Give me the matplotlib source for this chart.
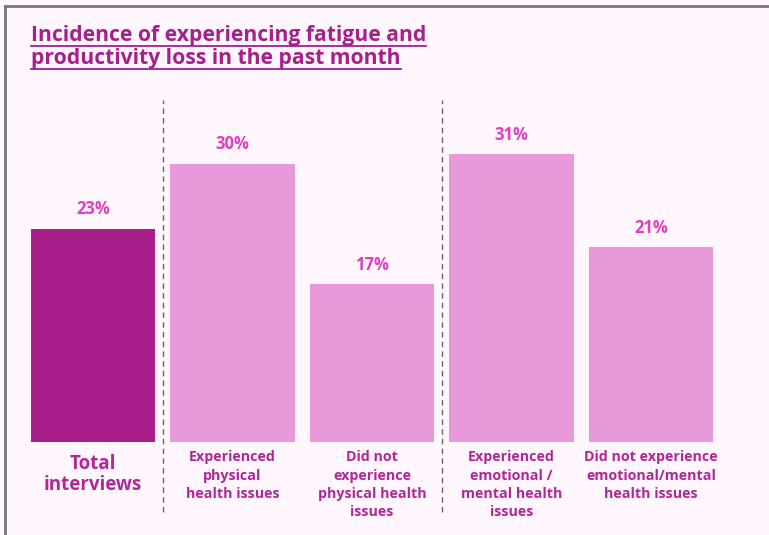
import matplotlib.pyplot as plt
from matplotlib.lines import Line2D

# 資料
categories = [
    "Total\ninterviews",
    "Experienced\nphysical\nhealth issues",
    "Did not\nexperience\nphysical health\nissues",
    "Experienced\nemotional /\nmental health\nissues",
    "Did not experience\nemotional/mental\nhealth issues",
]
values = [23, 30, 17, 31, 21]
value_labels = ["23%", "30%", "17%", "31%", "21%"]

BG = "#FFF7FD"
DARK = "#A81E8A"
LIGHT = "#E899D9"
LABEL_PINK = "#E040C0"
CAT_COLOR = "#B0279A"
TITLE_COLOR = "#A4208C"
FONT = ["Open Sans", "DejaVu Sans"]

W, H = 769, 535
fig = plt.figure(figsize=(W / 100, H / 100), dpi=100, facecolor=BG)

# 軸位置 (像素換算)
px_per_unit = 9.28
base_y = H - 442
top_y = H - 100
ax = fig.add_axes([23.25 / W, base_y / H, 697.5 / W, (top_y - base_y) / H])
ax.set_facecolor(BG)
ymax = (top_y - base_y) / px_per_unit
ax.set_xlim(-0.5, 4.5)
ax.set_ylim(0, ymax)
ax.axis("off")

colors = [DARK] + [LIGHT] * 4
x = range(len(values))
ax.bar(x, values, width=0.89, color=colors)

for xi, v, lab in zip(x, values, value_labels):
    ax.text(xi, v + 1.1, lab, ha="center", va="bottom", color=LABEL_PINK,
            fontsize=12, fontweight="bold", family=FONT)

# 類別標籤
for xi, cat in enumerate(categories):
    if xi == 0:
        ax.text(xi, -1.3, cat, ha="center", va="top", color=CAT_COLOR,
                fontsize=13.5, fontweight="bold", family=FONT, linespacing=1.05)
    else:
        ax.text(xi, -0.9, cat, ha="center", va="top", color=CAT_COLOR,
                fontsize=10.3, fontweight="bold", family=FONT, linespacing=1.38)

# 分隔虛線
y_low = -(512 - 442) / px_per_unit
for xd in [0.5, 2.5]:
    ax.plot([xd, xd], [y_low, ymax], ls=(0, (4, 3)), color="#666666",
            lw=1.0, clip_on=False)

# 標題 (含底線)
title_lines = ["Incidence of experiencing fatigue and",
               "productivity loss in the past month"]
renderer = fig.canvas.get_renderer()
for i, line in enumerate(title_lines):
    ty = (H - 41 - i * 23) / H
    t = fig.text(31 / W, ty, line, ha="left", va="baseline", color=TITLE_COLOR,
                 fontsize=15.2, fontweight="bold", family=FONT)
    bb = t.get_window_extent(renderer)
    uy = ty - 4.5 / H
    fig.add_artist(Line2D([bb.x0 / W, bb.x1 / W], [uy, uy], color=TITLE_COLOR,
                          lw=1.3, transform=fig.transFigure))

# 外框
fig.add_artist(Line2D([5 / W, 1], [(H - 6) / H, (H - 6) / H], color="#777777",
                      lw=2, transform=fig.transFigure))
fig.add_artist(Line2D([5 / W, 5 / W], [0, (H - 6) / H], color="#777777",
                      lw=2, transform=fig.transFigure))

fig.savefig("out.png", dpi=100, facecolor=BG)
